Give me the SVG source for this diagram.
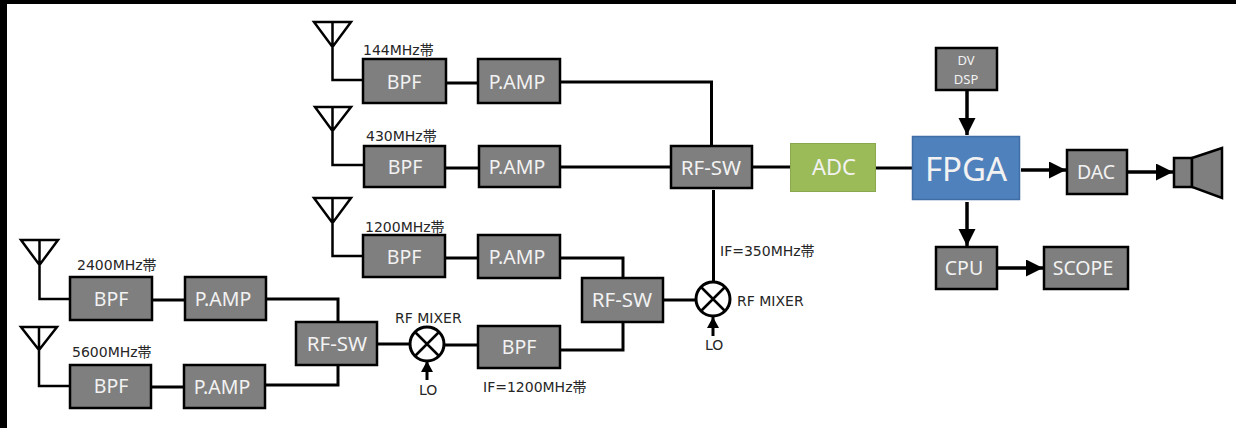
<svg xmlns="http://www.w3.org/2000/svg" width="1236" height="428" viewBox="0 0 1236 428">
<style>
.b{fill:#7f7f7f;stroke:#000;stroke-width:2.5}
.t{font-family:"Noto Sans","Noto Sans CJK JP",sans-serif;font-size:19.5px;fill:#f2f2f2;text-anchor:middle}
.l{font-family:"DejaVu Sans","Noto Sans CJK JP",sans-serif;font-size:14px;fill:#262626}
.c{fill:none;stroke:#000;stroke-width:3}
.h{stroke-width:3.5}
.a{fill:none;stroke:#000;stroke-width:2.5}
.m{fill:#fff;stroke:#000;stroke-width:3}
</style>
<defs>
<marker id="big" markerUnits="userSpaceOnUse" markerWidth="18" markerHeight="18" refX="17" refY="8.5" orient="auto"><path d="M0 0L17 8.5L0 17Z" fill="#000"/></marker>
<marker id="small" markerUnits="userSpaceOnUse" markerWidth="11" markerHeight="12" refX="11" refY="6" orient="auto"><path d="M0 0L11 6L0 12Z" fill="#000"/></marker>
</defs>
<rect width="1236" height="428" fill="#fff"/>
<path d="M0 0H1236V4H7V428H0Z" fill="#000"/>
<g id="connectors">
<path class="c" d="M446 83H478M560 82H711.5V146"/>
<path class="c" d="M445 168H479M560 167H671"/>
<path class="c" d="M445 258H478M560 258H623V278"/>
<path class="c" d="M152 300H185M266 299H338V322"/>
<path class="c" d="M151 387H184M265 385H338V365"/>
<path class="c" d="M377 344H410M444 345H478M560 350H623V322"/>
<path class="c" d="M663 300H696M713.5 190V282"/>
<path class="c" d="M752 167H790M876 168H912"/>
<path class="c" d="M427 380V361" marker-end="url(#small)"/>
<path class="c" d="M713 336V317" marker-end="url(#small)"/>
<path class="c h" d="M967 91V135" marker-end="url(#big)"/>
<path class="c h" d="M1021 170H1066" marker-end="url(#big)"/>
<path class="c h" d="M1128 172H1173" marker-end="url(#big)"/>
<path class="c h" d="M967 202V246" marker-end="url(#big)"/>
<path class="c h" d="M998 268H1043" marker-end="url(#big)"/>
</g>
<g id="ant144"><path class="a" d="M314 22H351L332.5 47ZM332.5 22V80H363"/></g>
<g id="ant430"><path class="a" d="M315 107H351L332.5 131ZM332.5 107V165H364"/></g>
<g id="ant1200"><path class="a" d="M314 198H351L332.5 223ZM332.5 198V256H363"/></g>
<g id="ant2400"><path class="a" d="M21 240H58L39.5 265ZM39.5 240V299H70"/></g>
<g id="ant5600"><path class="a" d="M21 327H57L39 350ZM39 327V386H70"/></g>
<g id="bpf144"><rect class="b" x="363" y="59" width="83" height="44"/><text class="t" x="404" y="89">BPF</text></g>
<g id="pamp144"><rect class="b" x="478" y="59" width="82" height="44"/><text class="t" x="517" y="89">P.AMP</text></g>
<g id="bpf430"><rect class="b" x="364" y="146" width="81" height="41"/><text class="t" x="405" y="174">BPF</text></g>
<g id="pamp430"><rect class="b" x="479" y="146" width="81" height="41"/><text class="t" x="517" y="174">P.AMP</text></g>
<g id="bpf1200"><rect class="b" x="363" y="235" width="82" height="42"/><text class="t" x="404" y="264">BPF</text></g>
<g id="pamp1200"><rect class="b" x="478" y="235" width="82" height="43"/><text class="t" x="517" y="264">P.AMP</text></g>
<g id="bpf2400"><rect class="b" x="70" y="277" width="82" height="43"/><text class="t" x="111" y="306">BPF</text></g>
<g id="pamp2400"><rect class="b" x="185" y="277" width="81" height="43"/><text class="t" x="223" y="306">P.AMP</text></g>
<g id="bpf5600"><rect class="b" x="70" y="365" width="81" height="43"/><text class="t" x="111" y="393">BPF</text></g>
<g id="pamp5600"><rect class="b" x="184" y="365" width="81" height="43"/><text class="t" x="222" y="394">P.AMP</text></g>
<g id="rfsw1"><rect class="b" x="296" y="322" width="81" height="43"/><text class="t" style="font-size:20.5px" x="337" y="351">RF-SW</text></g>
<g id="bpfif"><rect class="b" x="478" y="326" width="82" height="42"/><text class="t" x="519" y="354">BPF</text></g>
<g id="rfsw2"><rect class="b" x="582" y="278" width="81" height="44"/><text class="t" style="font-size:20.5px" x="622" y="307">RF-SW</text></g>
<g id="rfsw3"><rect class="b" x="671" y="146" width="81" height="42"/><text class="t" style="font-size:20.5px" x="711" y="175">RF-SW</text></g>
<g id="mixer1"><circle class="m" cx="427" cy="344" r="17"/><path class="a" d="M415 332L439 356M439 332L415 356"/></g>
<g id="mixer2"><circle class="m" cx="713" cy="299" r="17"/><path class="a" d="M701 287L725 311M725 287L701 311"/></g>
<g id="adc"><rect x="790.5" y="143.5" width="85" height="48" fill="#9bbb59" stroke="#8aa84f"/><text class="t" style="font-size:22px" x="834" y="175">ADC</text></g>
<g id="fpga"><rect x="912.5" y="136.5" width="107" height="63" fill="#4f81bd" stroke="#3f6ea6" stroke-width="1.5"/><text class="t" style="font-size:33px" x="966" y="181">FPGA</text></g>
<g id="dvdsp"><rect class="b" x="936" y="48" width="61" height="42"/><text class="t" style="font-size:13px" x="966" y="65">DV</text><text class="t" style="font-size:13px" x="966" y="84">DSP</text></g>
<g id="dac"><rect class="b" x="1067" y="150" width="60" height="44"/><text class="t" x="1096" y="179">DAC</text></g>
<g id="cpu"><rect class="b" x="936" y="247" width="61" height="42"/><text class="t" x="964" y="275">CPU</text></g>
<g id="scope"><rect class="b" x="1044" y="247" width="84" height="42"/><text class="t" x="1083" y="275">SCOPE</text></g>
<g id="speaker"><rect class="b" x="1174" y="158" width="18" height="29"/><path class="b" d="M1192 158L1222 148V198L1192 187Z"/></g>
<g id="labels">
<text class="l" x="363" y="55">144MHz帯</text>
<text class="l" x="366" y="141">430MHz帯</text>
<text class="l" x="365" y="232">1200MHz帯</text>
<text class="l" x="77" y="270">2400MHz帯</text>
<text class="l" x="72" y="357">5600MHz帯</text>
<text class="l" x="395" y="323">RF MIXER</text>
<text class="l" x="419" y="395">LO</text>
<text class="l" x="483" y="392">IF=1200MHz帯</text>
<text class="l" x="720" y="256">IF=350MHz帯</text>
<text class="l" x="737" y="306">RF MIXER</text>
<text class="l" x="705" y="350">LO</text>
</g>
</svg>
